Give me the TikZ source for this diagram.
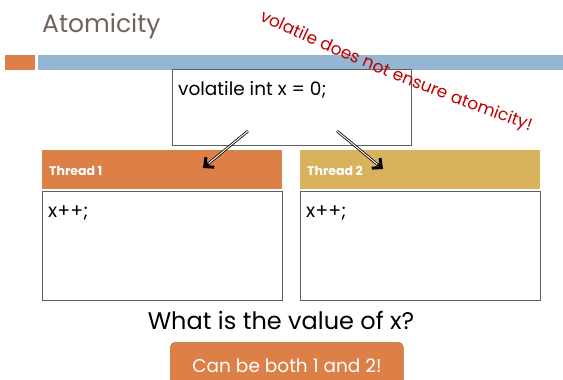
\documentclass[tikz,border=0pt]{standalone}
\usepackage{fontspec}
\setmainfont{Poppins}
\usetikzlibrary{decorations.text,arrows.meta,calc}
\definecolor{accorange}{HTML}{DD8047}
\definecolor{accblue}{HTML}{94B6D2}
\definecolor{accgold}{HTML}{D8B25C}
\definecolor{titlecol}{HTML}{736357}
\definecolor{boxgray}{HTML}{5F5F5F}
\definecolor{warnred}{HTML}{C00000}
\tikzset{
  bar/.style={fill=#1, draw=none, anchor=north west, inner sep=0, minimum height=15},
  codebox/.style={draw=boxgray, line width=1.2pt, anchor=north west, inner sep=0, fill=white},
  header/.style={fill=#1, draw=none, anchor=north west, inner sep=0, minimum width=240, minimum height=39},
  lbl/.style={anchor=base west, inner sep=0},
  dblarrow/.style={draw=black, line width=0.8pt, double=white, double distance=1pt},
  tip/.style={-{Straight Barb[length=7pt,width=13pt,line width=3pt]}, line width=3pt}
}
\begin{document}
\begin{tikzpicture}[x=1pt,y=-1pt]
\useasboundingbox (0,0) rectangle (563,380);
\fill[white] (0,0) rectangle (563,380);
% title
\node[lbl, text=titlecol, font=\fontsize{25}{30}\selectfont] (title) at (42,32) {Atomicity};
% bars
\node[bar=accorange, minimum width=30] (obar) at (5,55) {};
\node[bar=accblue, minimum width=525] (bbar) at (38,55) {};
% declaration box
\node[codebox, minimum width=239, minimum height=76] (decl) at (172,69) {};
\node[lbl, font=\fontsize{18.5}{20}\selectfont] (declt) at (178,95) {volatile int x = 0;};
% thread headers
\node[header=accorange] (h1) at (42,150) {};
\node[header=accgold] (h2) at (300,150) {};
\node[lbl, text=white, font=\fontsize{12.5}{14}\selectfont\bfseries] (h1t) at (49,175) {Thread 1};
\node[lbl, text=white, font=\fontsize{12.5}{14}\selectfont\bfseries] (h2t) at (307,175) {Thread 2};
% thread bodies
\node[codebox, minimum width=240, minimum height=109] (b1) at (42,191) {};
\node[codebox, minimum width=240, minimum height=109] (b2) at (300,191) {};
\node[lbl, font=\fontsize{19}{20}\selectfont] (b1t) at (48,217) {x++;};
\node[lbl, font=\fontsize{19}{20}\selectfont] (b2t) at (306,217) {x++;};
% arrows
\coordinate (a1s) at (248,131);
\coordinate (a1e) at (203,168);
\coordinate (a2s) at (337,131);
\coordinate (a2e) at (383,169);
\draw[dblarrow, shorten >=4pt] (a1s) -- (a1e);
\draw[tip] ($(a1e)!7pt!(a1s)$) -- (a1e);
\draw[dblarrow, shorten >=4pt] (a2s) -- (a2e);
\draw[tip] ($(a2e)!7pt!(a2s)$) -- (a2e);
% question
\node[anchor=base, inner sep=0, font=\fontsize{24}{28}\selectfont] (q) at (281,329) {What is the value of x?};
% answer
\node[fill=accorange, draw=accorange!85!black, line width=0.6pt, rounded corners=5pt, anchor=north west, minimum width=233, minimum height=50, inner sep=0] (ans) at (170,342) {};
\node[anchor=base, inner sep=0, text=white, font=\fontsize{18.5}{20}\selectfont] (anst) at (287,372) {Can be both 1 and 2!};
% curved warning
\path[decorate, decoration={text along path, text align=left,
  text={|\fontsize{17}{19}\selectfont\color{warnred}|volatile does not ensure atomicity!}}]
  (259,20) .. controls (352,64) and (446,102) .. (548,137);
\end{tikzpicture}
\end{document}
